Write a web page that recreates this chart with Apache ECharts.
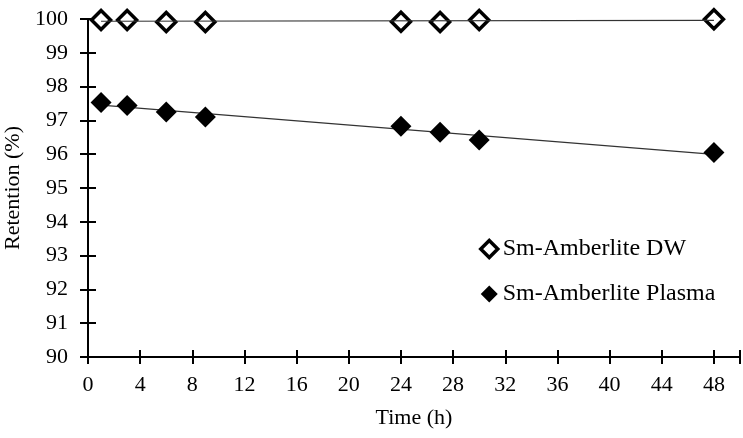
<!DOCTYPE html>
<html>
<head>
<meta charset="utf-8">
<script src="https://cdn.jsdelivr.net/npm/echarts@6/dist/echarts.min.js"></script>
<style>html,body{margin:0;padding:0;background:#fff}#c{width:743px;height:438px}</style>
</head>
<body>
<div id="c"></div>
<script>
const timeH = [1, 3, 6, 9, 24, 27, 30, 48];
const dwRetention = [99.97, 99.97, 99.91, 99.91, 99.92, 99.91, 99.97, 99.99];
const plasmaRetention = [97.53, 97.44, 97.25, 97.1, 96.83, 96.65, 96.42, 96.05];
const seriesNames = ['Sm-Amberlite DW', 'Sm-Amberlite Plasma'];
const xTicks = [0, 4, 8, 12, 16, 20, 24, 28, 32, 36, 40, 44, 48];
const yTicks = [90, 91, 92, 93, 94, 95, 96, 97, 98, 99, 100];

function linFit(xs, ys) {
  const n = xs.length;
  const mx = xs.reduce((a, b) => a + b, 0) / n;
  const my = ys.reduce((a, b) => a + b, 0) / n;
  let sxy = 0, sxx = 0;
  for (let i = 0; i < n; i++) { sxy += (xs[i] - mx) * (ys[i] - my); sxx += (xs[i] - mx) ** 2; }
  const b = sxy / sxx, a = my - b * mx;
  const x0 = Math.min(...xs), x1 = Math.max(...xs);
  return [[x0, a + b * x0], [x1, a + b * x1]];
}

const font = 'Liberation Serif';
const chart = echarts.init(document.getElementById('c'));
const axisBase = {
  axisLine: { lineStyle: { color: '#000', width: 2 } },
  splitLine: { show: false }
};
chart.setOption({
  animation: false,
  textStyle: { fontFamily: font, color: '#000' },
  grid: { left: 88, right: 3, top: 19, bottom: 81, containLabel: false, outerBoundsMode: 'none' },
  legend: {
    orient: 'vertical', left: 479, top: 237, itemGap: 21, padding: 0,
    itemWidth: 17, itemHeight: 17,
    textStyle: { fontFamily: font, fontSize: 24, color: '#000' },
    data: [
      { name: seriesNames[0], icon: 'diamond', itemStyle: { color: '#fff', borderColor: '#000', borderWidth: 3.5 } },
      { name: seriesNames[1], icon: 'diamond', itemStyle: { color: '#000', borderWidth: 0 } }
    ]
  },
  xAxis: [
    Object.assign({}, axisBase, {
      type: 'value', min: 0, max: 50, interval: 4,
      name: 'Time (h)', nameLocation: 'middle', nameGap: 50,
      nameTextStyle: { fontFamily: font, fontSize: 22, color: '#000' },
      axisTick: { show: true, length: 7, lineStyle: { color: '#000', width: 2 } },
      axisLabel: { fontFamily: font, fontSize: 22, color: '#000', margin: 17,
        formatter: v => xTicks.includes(v) ? String(v) : '' }
    }),
    {
      type: 'value', min: 0, max: 50, interval: 4, position: 'bottom',
      axisLine: { show: false }, axisLabel: { show: false }, splitLine: { show: false },
      axisTick: { show: true, inside: true, length: 7, lineStyle: { color: '#000', width: 2 } }
    }
  ],
  yAxis: [
    Object.assign({}, axisBase, {
      type: 'value', min: 90, max: 100, interval: 1,
      name: 'Retention (%)', nameLocation: 'middle', nameGap: 63,
      nameTextStyle: { fontFamily: font, fontSize: 22, color: '#000' },
      axisTick: { show: true, length: 8, lineStyle: { color: '#000', width: 2 } },
      axisLabel: { fontFamily: font, fontSize: 22, color: '#000', margin: 20,
        formatter: v => yTicks.includes(v) ? String(v) : '' }
    }),
    {
      type: 'value', min: 90, max: 100, interval: 1, position: 'left',
      axisLine: { show: false }, axisLabel: { show: false }, splitLine: { show: false },
      axisTick: { show: true, inside: true, length: 8, lineStyle: { color: '#000', width: 2 } }
    }
  ],
  series: [
    {
      name: seriesNames[0], type: 'scatter', symbol: 'diamond', symbolSize: 19, z: 3,
      itemStyle: { color: '#fff', borderColor: '#000', borderWidth: 3.5, opacity: 1 },
      data: timeH.map((t, i) => [t, dwRetention[i]])
    },
    {
      name: seriesNames[1], type: 'scatter', symbol: 'diamond', symbolSize: 21, z: 5,
      itemStyle: { color: '#000', opacity: 1 },
      data: timeH.map((t, i) => [t, plasmaRetention[i]])
    },
    {
      name: 'dwTrend', type: 'line', symbol: 'none', z: 4, silent: true,
      lineStyle: { color: '#333', width: 1.2 },
      data: linFit(timeH, dwRetention)
    },
    {
      name: 'plasmaTrend', type: 'line', symbol: 'none', z: 4, silent: true,
      lineStyle: { color: '#333', width: 1.2 },
      data: linFit(timeH, plasmaRetention)
    }
  ]
});
</script>
</body>
</html>
